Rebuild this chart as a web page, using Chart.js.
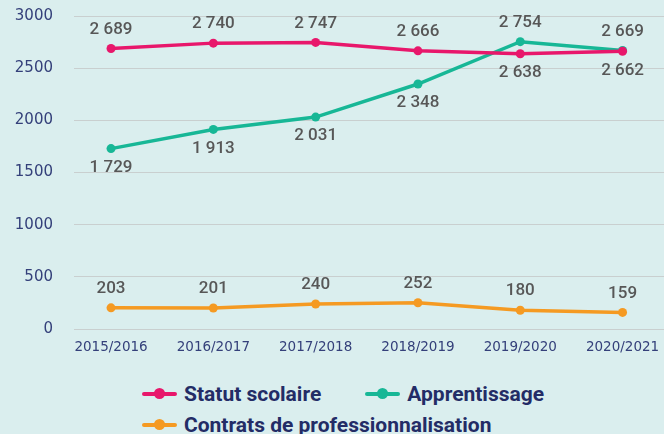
<!DOCTYPE html>
<html lang="fr">
<head>
<meta charset="utf-8">
<script src="https://cdn.jsdelivr.net/npm/chart.js@4"></script>
<style>
  body { margin: 0; background: #daeeee; width: 664px; height: 434px; overflow: hidden; position: relative; }
  /* 5 px de plus : la zone du graphique va jusqu'au bord droit */
  #wrap { position: absolute; left: 0; top: 0; width: 669px; height: 357px; }
  #legend { position: absolute; left: 142px; top: 378px; font-family: Roboto, sans-serif; font-weight: 700; font-size: 21px; color: #232c66; }
  .row { display: flex; gap: 44px; height: 31px; align-items: center; }
  .item { display: flex; align-items: center; }
  .icon { position: relative; width: 35px; height: 11px; margin-right: 7px; }
  .icon .ln { position: absolute; left: 0; right: 0; top: 3.5px; height: 4px; border-radius: 2px; }
  .icon .dt { position: absolute; left: 12px; top: 0; width: 11px; height: 11px; border-radius: 50%; }
</style>
</head>
<body>
<div id="wrap"><canvas id="chart"></canvas></div>
<div id="legend"></div>
<script>
// années scolaires
const years = ["2015/2016", "2016/2017", "2017/2018", "2018/2019", "2019/2020", "2020/2021"];

// effectifs par voie de formation
const statutScolaire = [2689, 2740, 2747, 2666, 2638, 2662];
const apprentissage = [1729, 1913, 2031, 2348, 2754, 2669];
const contratsPro = [203, 201, 240, 252, 180, 159];

const yTicks = [0, 500, 1000, 1500, 2000, 2500, 3000];

const pink = "#e8176b";
const green = "#17b796";
const orange = "#f59a22";

// "2689" -> "2 689"
const fmt = v => String(v).replace(/\B(?=(\d{3})+(?!\d))/g, " ");

const toPoints = arr => arr.map((v, i) => ({ x: i, y: v }));

// étiquettes de valeurs au-dessus / en dessous des points
const valueLabels = {
  id: "valueLabels",
  afterDatasetsDraw(chart) {
    const ctx = chart.ctx;
    ctx.save();
    ctx.font = "500 17px Roboto";
    ctx.fillStyle = "#575757";
    ctx.textAlign = "center";
    ctx.textBaseline = "middle";
    chart.data.datasets.forEach((ds, d) => {
      const meta = chart.getDatasetMeta(d);
      meta.data.forEach((pt, i) => {
        const v = ds.data[i].y;
        let above = true;
        if (d === 0) above = v >= apprentissage[i];
        if (d === 1) above = v > statutScolaire[i];
        ctx.fillText(fmt(v), pt.x, above ? pt.y - 19 : pt.y + 19);
      });
    });
    ctx.restore();
  }
};

const ctx = document.getElementById("chart");

const chart = new Chart(ctx, {
  type: "line",
  data: {
    datasets: [
      { label: "Statut scolaire", data: toPoints(statutScolaire), borderColor: pink, backgroundColor: pink },
      { label: "Apprentissage", data: toPoints(apprentissage), borderColor: green, backgroundColor: green },
      { label: "Contrats de professionnalisation", data: toPoints(contratsPro), borderColor: orange, backgroundColor: orange }
    ]
  },
  options: {
    responsive: true,
    maintainAspectRatio: false,
    animation: false,
    layout: { padding: { top: 16, left: 0, right: 0, bottom: 0 } },
    elements: {
      line: { borderWidth: 3.5, tension: 0 },
      point: { radius: 4.5, borderWidth: 0, hoverRadius: 5 }
    },
    plugins: {
      legend: { display: false },
      tooltip: { enabled: false }
    },
    scales: {
      x: {
        type: "linear",
        min: -0.362,
        max: 5.405,
        afterBuildTicks: s => { s.ticks = years.map((y, i) => ({ value: i })); },
        afterFit: s => { s.height = 28; s.paddingLeft = 0; s.paddingRight = 0; },
        grid: { display: false, drawTicks: false },
        border: { display: false },
        ticks: {
          padding: 10,
          autoSkip: false,
          maxRotation: 0,
          color: "#34407a",
          font: { family: "DejaVu Sans", size: 13.5 },
          callback: v => years[v]
        }
      },
      y: {
        min: 0,
        max: 3000,
        afterBuildTicks: s => { s.ticks = yTicks.map(v => ({ value: v })); },
        afterFit: s => { s.width = 74; s.paddingTop = 0; s.paddingBottom = 0; },
        grid: { color: "#c9cfcf", lineWidth: 1, drawTicks: false },
        border: { display: false },
        ticks: {
          padding: 21,
          color: "#34407a",
          font: { family: "DejaVu Sans", size: 15 },
          callback: v => String(v)
        }
      }
    }
  },
  plugins: [valueLabels]
});

// légende : trait + point, comme sur l'original
const legend = document.getElementById("legend");
const rows = [[0, 1], [2]];
rows.forEach(r => {
  const row = document.createElement("div");
  row.className = "row";
  r.forEach(d => {
    const ds = chart.data.datasets[d];
    const item = document.createElement("div");
    item.className = "item";
    item.innerHTML = `<span class="icon"><span class="ln" style="background:${ds.borderColor}"></span><span class="dt" style="background:${ds.borderColor}"></span></span><span>${ds.label}</span>`;
    row.appendChild(item);
  });
  legend.appendChild(row);
});
</script>
</body>
</html>
